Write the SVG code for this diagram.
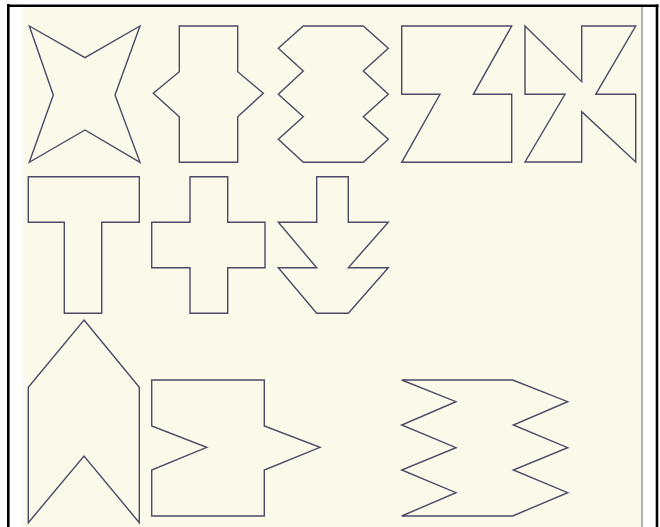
<svg xmlns="http://www.w3.org/2000/svg" width="660" height="527" viewBox="0 0 660 527">
<style>
.s{fill:none;stroke:#4a4a68;stroke-width:1.4;stroke-linejoin:miter}
</style>
<rect x="0" y="0" width="660" height="527" fill="#ffffff"/>
<rect x="23" y="7" width="619" height="520" fill="#fbf9e9"/>
<line x1="642" y1="7" x2="642" y2="527" stroke="#9a9aa2" stroke-width="1.5"/>
<line x1="8.3" y1="4" x2="8.3" y2="527" stroke="#000" stroke-width="2.6"/>
<line x1="7" y1="5.8" x2="658.5" y2="5.8" stroke="#000" stroke-width="2.4"/>
<line x1="657" y1="4.6" x2="657" y2="527" stroke="#000" stroke-width="2.6"/>
<g id="star"><polygon class="s" points="29.3,26 85,57.7 140,26 115,95 140,162.3 85,130 29.3,162.3 53.3,95"/></g>
<g id="notched-rect"><polygon class="s" points="179.3,26 237.7,26 237.7,71.7 263.3,93.3 237.7,116.7 237.7,162.3 179.3,162.3 179.3,116.7 153.3,93.3 179.3,71.7"/></g>
<g id="zigzag-column"><polygon class="s" points="303.3,26 363.3,26 388.3,48.3 363.3,71 388.3,94.3 363.3,116.7 388.3,139.3 363.3,162.3 303.3,162.3 278.3,139.3 303.3,116.7 278.3,94.3 303.3,71 278.3,48.3"/></g>
<g id="z-shape"><polygon class="s" points="401.7,26 511.7,26 473.3,94.3 511.7,94.3 511.7,162.3 401.7,162.3 440,94.3 401.7,94.3"/></g>
<g id="pinwheel"><polygon class="s" points="525,26 581.7,81.7 581.7,26 635.7,26 595.7,94.3 635.7,94.3 635.7,162 581.7,111.7 581.7,162 525,162 565,94.3 525,94.3"/></g>
<g id="t-shape"><polygon class="s" points="28.3,176.7 139.3,176.7 139.3,222.3 101.7,222.3 101.7,313.3 64.3,313.3 64.3,222.3 28.3,222.3"/></g>
<g id="plus"><polygon class="s" points="190,176.7 227.7,176.7 227.7,222.3 265,222.3 265,267.7 227.7,267.7 227.7,313.3 190,313.3 190,267.7 151.7,267.7 151.7,222.3 190,222.3"/></g>
<g id="arrow-down"><polygon class="s" points="316.7,176.7 348.3,176.7 348.3,222.3 388.3,222.3 348.3,267.7 388.3,267.7 348.3,313.3 316.7,313.3 278.3,267.7 316.7,267.7 278.3,222.3 316.7,222.3"/></g>
<g id="chevron"><polygon class="s" points="84,320 139.3,387.3 139.3,522.7 84,456 28.3,522.7 28.3,387.3"/></g>
<g id="notched-block"><polygon class="s" points="151.7,380 264.3,380 264.3,426 320,447.3 264.3,470 264.3,516 151.7,516 151.7,470 206.7,447.3 151.7,426"/></g>
<g id="zigzag-band"><polygon class="s" points="401.7,380 512.7,380 567.7,401.7 513.3,425 567.7,447.7 513.3,470 567.7,492.7 512.7,516 401.7,516 456,492.7 401.7,470 456,447.7 401.7,425 456,401.7"/></g>
</svg>
